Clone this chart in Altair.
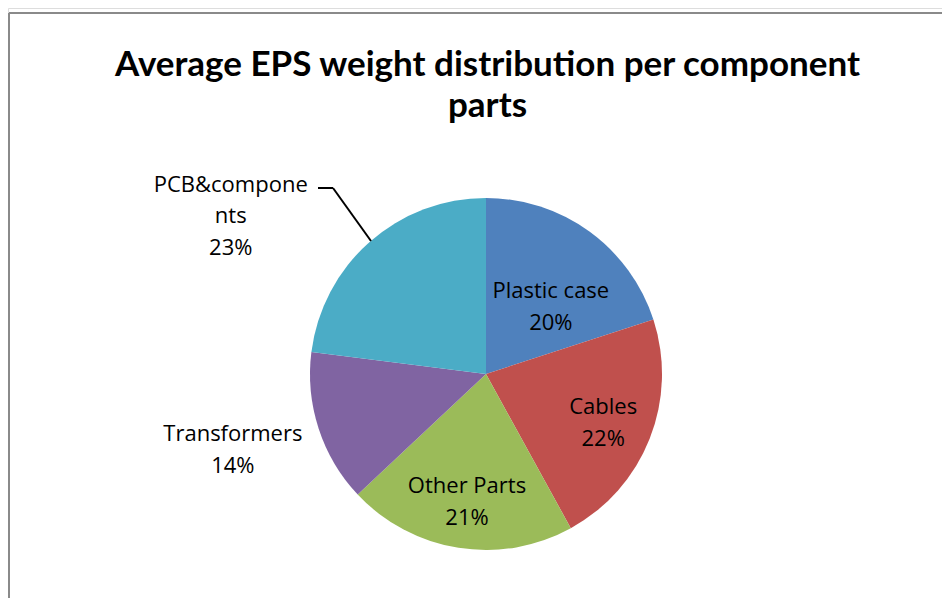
import altair as alt
import pandas as pd

categories = ["Plastic case", "Cables", "Other Parts", "Transformers", "PCB&components"]
values = [20, 22, 21, 14, 23]
label_lines = ["Plastic case", "Cables", "Other Parts", "Transformers", "PCB&compone\nnts"]
colors = ["#4F81BD", "#C0504D", "#9BBB59", "#8064A2", "#4BACC6"]
title_lines = ["Average EPS weight distribution per component", "parts"]

df = pd.DataFrame({
    "category": categories,
    "value": values,
    "order": list(range(len(categories))),
    "label": [f"{l}\n{v}%" for l, v in zip(label_lines, values)],
})

TITLE_FONT = "Lato"
LABEL_FONT = "Open Sans"
W, H = 934, 590
CX, CY = 486 - 8, 374 - 8
R = 176

theta_scale = alt.Scale(domain=[0, 100])

pie = alt.Chart(df).mark_arc(outerRadius=R).encode(
    theta=alt.Theta("value:Q", stack=True, scale=theta_scale),
    order=alt.Order("order:Q"),
    color=alt.Color("category:N", scale=alt.Scale(domain=categories, range=colors), legend=None),
    x=alt.value(CX),
    y=alt.value(CY),
)

base_txt = alt.Chart(df).transform_window(
    cum="sum(value)", sort=[alt.SortField("order")], frame=[None, 0]
).transform_calculate(mid="datum.cum - datum.value / 2")

# per-label placement (radius from centre, pixel nudges)
place = {
    "Plastic case": (95, 9, -6),
    "Cables": (126, 0, -13),
    "Other Parts": (128, 1, -14),
    "Transformers": (263, -3, -21),
    "PCB&components": (200, -123, -39),
}

layers = [pie]
for cat, (r, ddx, ddy) in place.items():
    layers.append(
        base_txt.transform_filter(alt.datum.category == cat).mark_text(
            radius=r, dx=ddx, dy=ddy, font=LABEL_FONT, fontSize=22, lineBreak="\n",
            lineHeight=31.5, align="center", baseline="middle", color="#000000",
        ).encode(
            theta=alt.Theta("mid:Q", stack=None, scale=theta_scale),
            text="label:N",
            x=alt.value(CX),
            y=alt.value(CY),
        )
    )

one = pd.DataFrame({"k": [0]})
title_df = pd.DataFrame({"t": ["\n".join(title_lines)]})

title = alt.Chart(title_df).mark_text(
    font=TITLE_FONT, fontSize=35, fontWeight="bold", color="#000000", lineBreak="\n",
    lineHeight=41, align="center", baseline="alphabetic",
).encode(text="t:N", x=alt.value(487.5 - 8), y=alt.value(76 - 8))

# leader line for the PCB label
leader_h = alt.Chart(one).mark_rule(color="#000000", strokeWidth=2).encode(
    x=alt.value(CX - 168), x2=alt.value(CX - 153), y=alt.value(CY - 186)
)
leader_d = alt.Chart(one).mark_rule(color="#000000", strokeWidth=2).encode(
    x=alt.value(CX - 153), x2=alt.value(CX - 115), y=alt.value(CY - 186), y2=alt.value(CY - 133)
)

# outer chart frame (right and bottom edges lie outside the picture)
frame_top = alt.Chart(one).mark_rule(color="#8A8A8A", strokeWidth=2).encode(
    x=alt.value(1), x2=alt.value(W + 10), y=alt.value(5)
)
frame_left = alt.Chart(one).mark_rule(color="#8A8A8A", strokeWidth=2).encode(
    x=alt.value(1), y=alt.value(5), y2=alt.value(H + 10)
)

chart = alt.layer(frame_top, frame_left, title, *layers, leader_h, leader_d).properties(
    width=W,
    height=H,
    autosize=alt.AutoSizeParams(type="none"),
    padding=0,
).configure_view(strokeWidth=0).configure(background="#FFFFFF")

chart.save("out.html", embed_options={"renderer": "svg", "actions": False})
